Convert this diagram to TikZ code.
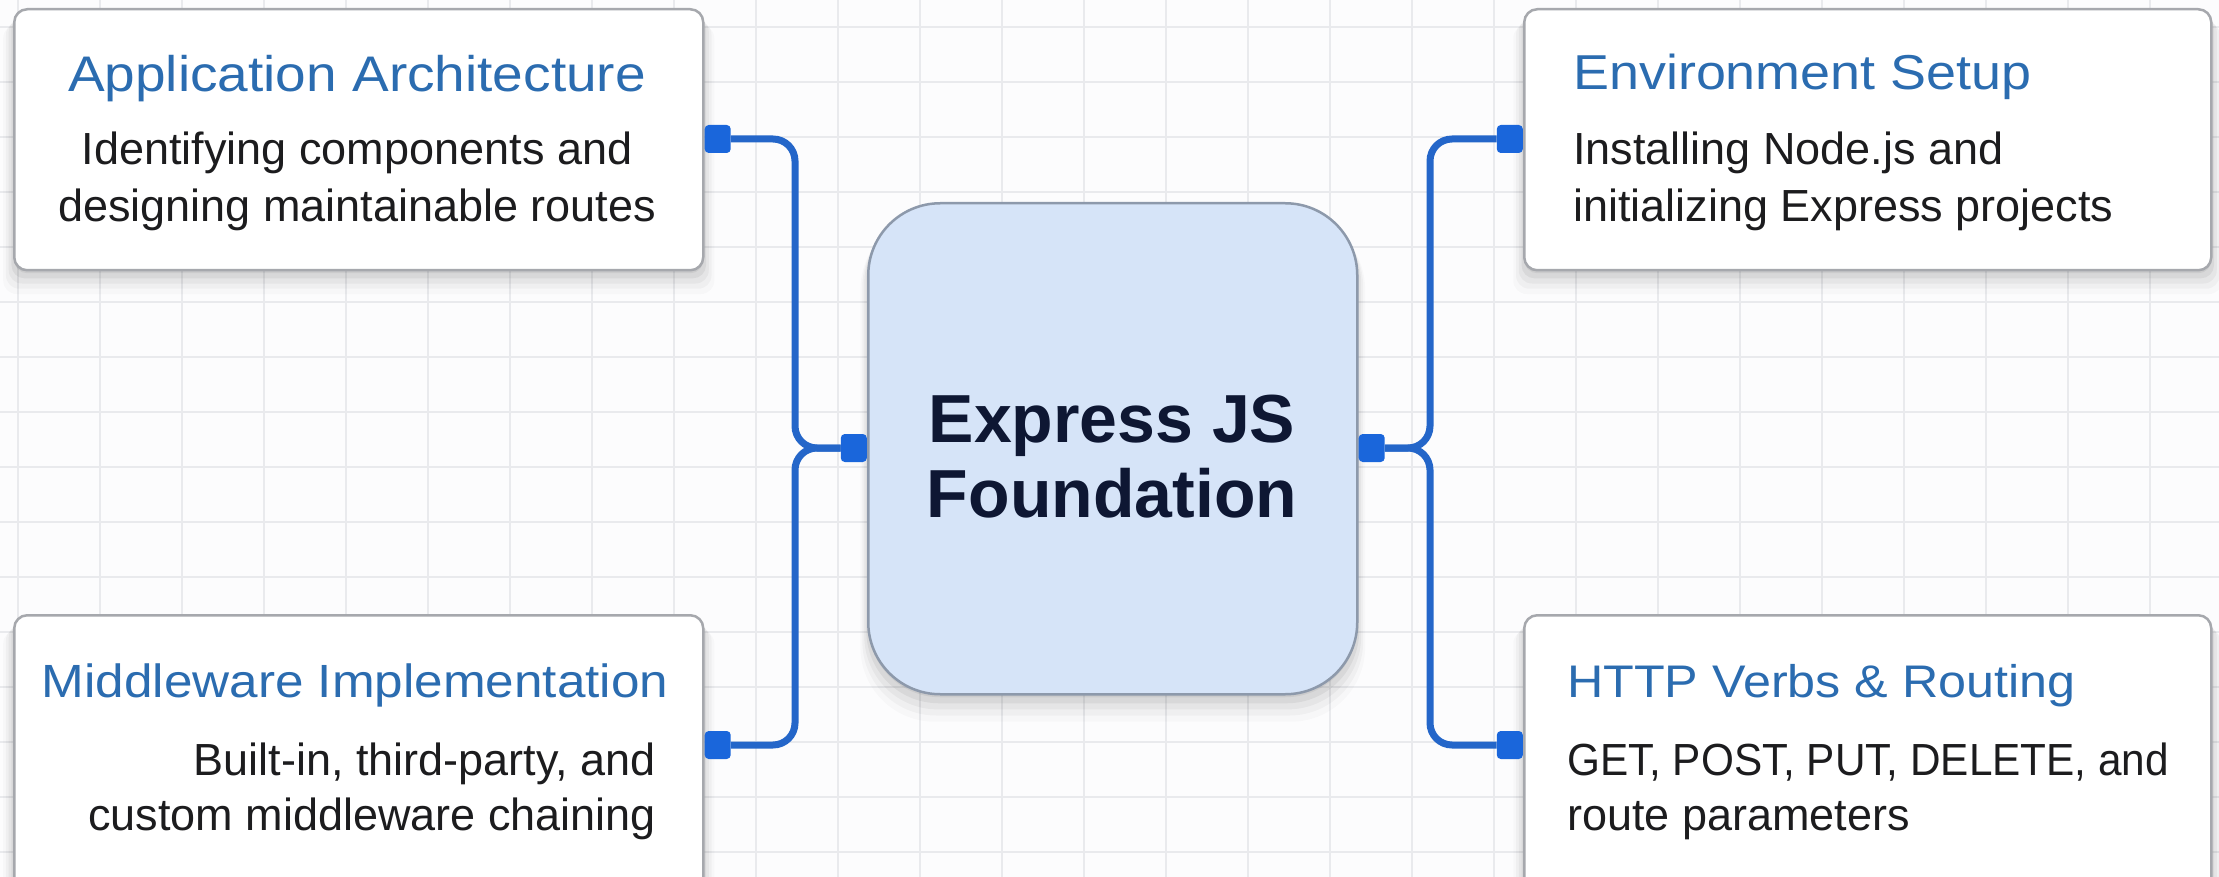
\documentclass[tikz,border=0pt]{standalone}
\usepackage{fontspec}
\setmainfont{Liberation Sans}
\newfontfamily\titlefont{Liberation Sans}[FakeStretch=1.1]
\newfontfamily\narrowfont{Liberation Sans}[FakeStretch=0.94]
\usetikzlibrary{shadows}
\definecolor{titleblue}{HTML}{2B6CB0}
\definecolor{bodytext}{HTML}{1C1C1E}
\definecolor{centertext}{HTML}{0E1733}
\definecolor{centerfill}{HTML}{D6E4F8}
\definecolor{centerdraw}{HTML}{8D99AB}
\definecolor{carddraw}{HTML}{A6A8AD}
\definecolor{connblue}{HTML}{2466C9}
\definecolor{portblue}{HTML}{1A66DB}
\definecolor{gridgray}{HTML}{E9EAED}
\definecolor{bgwhite}{HTML}{FCFCFD}
\tikzset{
  softshadow/.style={
    general shadow={shadow yshift=-3pt, fill=black, opacity=0.06},
    general shadow={shadow yshift=-7pt, shadow scale=1.008, fill=black, opacity=0.05},
    general shadow={shadow yshift=-11pt, shadow scale=1.016, fill=black, opacity=0.04},
    general shadow={shadow yshift=-15pt, shadow scale=1.024, fill=black, opacity=0.03},
    general shadow={shadow yshift=-19pt, shadow scale=1.032, fill=black, opacity=0.02}},
  card/.style={draw=carddraw, line width=2.5pt, fill=white, rounded corners=13pt,
    anchor=north west, inner sep=0pt, softshadow},
  hub/.style={draw=centerdraw, line width=2.5pt, fill=centerfill, rounded corners=72pt,
    anchor=north west, inner sep=0pt, softshadow},
  ttl/.style={font=\titlefont\fontsize{#1}{56}\selectfont, text=titleblue, inner sep=0pt},
  ttl/.default=48,
  bodyline/.style={font=\fontsize{45}{56}\selectfont, text=bodytext, inner sep=0pt},
  hubtext/.style={font=\bfseries\fontsize{68}{75}\selectfont, text=centertext, inner sep=0pt},
  port/.style={fill=portblue, rounded corners=4pt, minimum width=26pt, minimum height=28pt, inner sep=0pt},
  conn/.style={draw=connblue, line width=7pt, rounded corners=22pt},
}
\begin{document}
\begin{tikzpicture}[x=1pt, y=-1pt]
\useasboundingbox (0,0) rectangle (2219,877);
\clip (0,0) rectangle (2219,877);
\fill[bgwhite] (0,0) rectangle (2219,877);
% grid
\foreach \gy in {0,...,15} {
  \draw[gridgray, line width=1.5pt] (0,27+55*\gy) -- (2219,27+55*\gy);
}
\foreach \gx in {0,...,27} {
  \draw[gridgray, line width=1.5pt] (18+82*\gx,0) -- (18+82*\gx,877);
}
% cards
\node[card, minimum width=689pt, minimum height=261pt] (tl) at (13,8) {};
\node[card, minimum width=689pt, minimum height=300pt] (bl) at (13,614) {};
\node[card, minimum width=687pt, minimum height=261pt] (tr) at (1523,8) {};
\node[card, minimum width=687pt, minimum height=300pt] (br) at (1523,614) {};
\node[hub, minimum width=489pt, minimum height=491pt] (hub) at (867,202) {};

% texts: top left (centered)
\node[ttl=50, anchor=base] (tlT) at (357,92) {Application Architecture};
\node[bodyline, anchor=base] (tlA) at (357,165) {Identifying components and};
\node[bodyline, anchor=base] (tlB) at (357,222) {designing maintainable routes};
% top right (left aligned)
\node[ttl=49, anchor=base west] (trT) at (1573,90) {Environment Setup};
\node[bodyline, anchor=base west] (trA) at (1573,165) {Installing Node.js and};
\node[bodyline, anchor=base west] (trB) at (1573,222) {initializing Express projects};
% bottom left
\node[ttl=46.6, anchor=base] (blT) at (355,697) {Middleware Implementation};
\node[bodyline, anchor=base east] (blA) at (656,775) {Built-in, third-party, and};
\node[bodyline, anchor=base east] (blB) at (656,830) {custom middleware chaining};
% bottom right
\node[ttl=45.7, anchor=base west] (brT) at (1567,697) {HTTP Verbs \& Routing};
\node[bodyline, anchor=base west, font=\narrowfont\fontsize{45}{56}\selectfont] (brA) at (1567,775) {GET, POST, PUT, DELETE, and};
\node[bodyline, anchor=base west] (brB) at (1567,830) {route parameters};
% hub text
\node[hubtext, anchor=base] (hubA) at (1112,442) {Express JS};
\node[hubtext, anchor=base] (hubB) at (1112,517) {Foundation};

% ports
\node[port, anchor=west] (pTL) at (tl.east |- 0,139) {};
\node[port, anchor=west] (pBL) at (bl.east |- 0,745) {};
\node[port, anchor=east] (pTR) at (tr.west |- 0,139) {};
\node[port, anchor=east] (pBR) at (br.west |- 0,745) {};
\node[port, anchor=east] (pHL) at (hub.west |- 0,448) {};
\node[port, anchor=west] (pHR) at (hub.east |- 0,448) {};

% buses
\coordinate (busL) at (795,448);
\coordinate (busR) at (1430,448);

% connectors
\draw[conn] (pTL.east) -| (busL) -- (pHL.west);
\draw[conn] (pBL.east) -| (busL) -- (pHL.west);
\draw[conn] (pHR.east) -- (busR) |- (pTR.west);
\draw[conn] (pHR.east) -- (busR) |- (pBR.west);
\end{tikzpicture}
\end{document}
